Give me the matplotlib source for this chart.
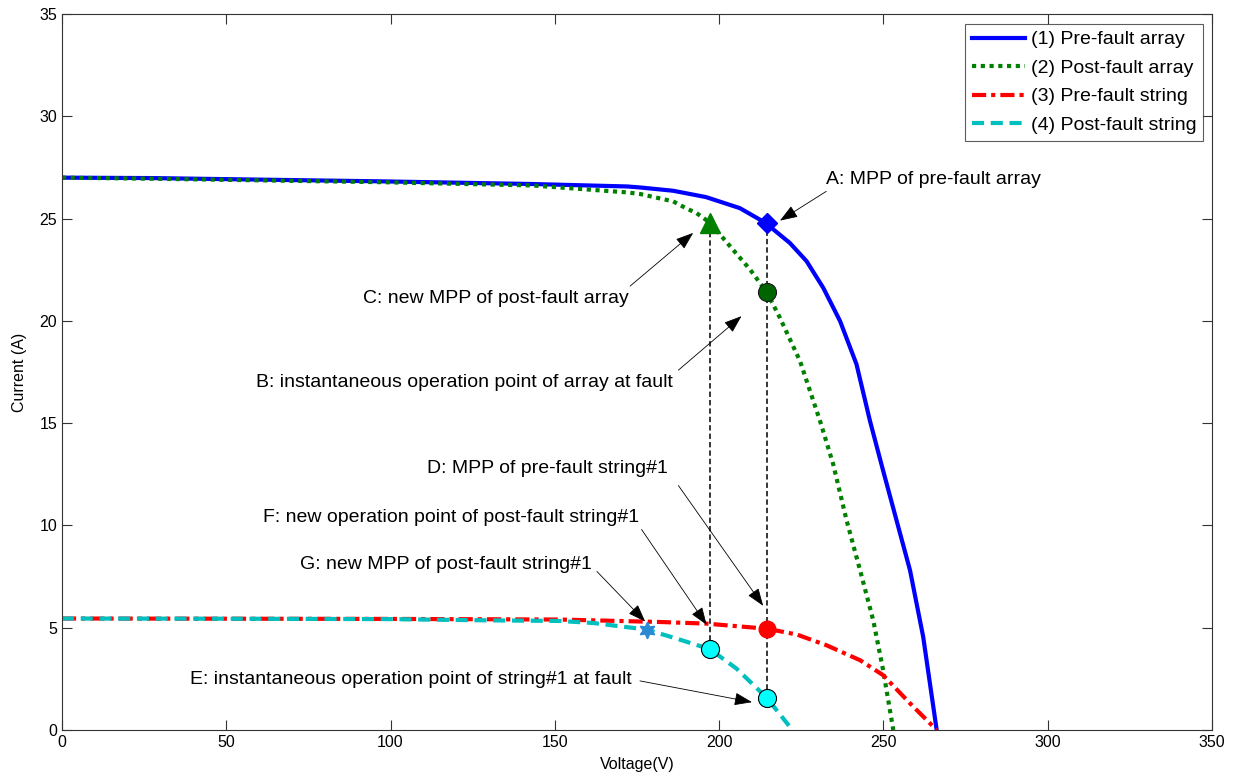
import matplotlib.pyplot as plt

# I-V curves (voltage in V, current in A)
pre_array_v = [0, 27, 97, 143, 172, 176, 186, 196, 206.3, 214, 221.5, 226.6, 231.7, 236.8,
               241.8, 245.9, 249.9, 254.0, 258.1, 262.1, 266.2]
pre_array_i = [27.0, 26.98, 26.82, 26.69, 26.57, 26.52, 26.36, 26.05, 25.51, 24.8, 23.81, 22.92,
               21.61, 19.99, 17.88, 15.11, 12.68, 10.24, 7.8, 4.55, 0.0]

post_array_v = [0, 27, 97, 143, 172, 176, 186, 190, 193.1, 197.2, 203.3, 209.4, 214.5, 218.5,
                224.6, 230.7, 234.7, 238.8, 242.9, 246.9, 249.9, 253]
post_array_i = [27.0, 26.95, 26.78, 26.62, 26.28, 26.2, 25.84, 25.5, 25.27, 24.8, 23.65, 22.51,
                21.4, 20.15, 18.04, 15.11, 13.0, 10.24, 7.8, 5.36, 2.93, 0.0]

pre_string_v = [0, 50, 100, 151.6, 182, 196.2, 214.5, 223.6, 232.7, 242.9, 249.9, 258.1, 266.2]
pre_string_i = [5.45, 5.44, 5.43, 5.40, 5.28, 5.2, 4.95, 4.67, 4.14, 3.41, 2.68, 1.3, 0.0]

post_string_v = [0, 50, 100, 130, 151.6, 161.7, 177.9, 187, 197.2, 205.3, 214.5, 221.5, 222.3]
post_string_i = [5.45, 5.44, 5.42, 5.36, 5.33, 5.23, 4.91, 4.47, 3.95, 3.0, 1.57, 0.16, 0.0]

# operating points A-G
pt_a = (214.5, 24.8)
pt_b = (214.5, 21.4)
pt_c = (197.2, 24.8)
pt_d = (214.5, 4.95)
pt_e = (214.5, 1.57)
pt_f = (197.2, 3.95)
pt_g = (177.9, 4.91)

# annotation text, arrow head, arrow tail, text anchor, alignment
notes = [
    ("A: MPP of pre-fault array", (218.5, 24.9), (232.6, 26.33), (232.5, 26.9), "left"),
    ("C: new MPP of post-fault array", (192.1, 24.3), (172.9, 21.7), (172.5, 21.1), "right"),
    ("B: instantaneous operation point of array at fault", (206.8, 20.23), (187.6, 17.59), (185.8, 17.0), "right"),
    ("D: MPP of pre-fault string#1", (213.4, 6.07), (187.6, 11.95), (184.5, 12.77), "right"),
    ("F: new operation point of post-fault string#1", (196.2, 5.14), (176.4, 9.8), (175.8, 10.38), "right"),
    ("G: new MPP of post-fault string#1", (177.5, 5.3), (162.8, 7.75), (161.3, 8.09), "right"),
    ("E: instantaneous operation point of string#1 at fault", (210.0, 1.36), (175.9, 2.4), (173.5, 2.49), "right"),
]

plt.rcParams['font.family'] = ['Liberation Sans', 'DejaVu Sans']

fig = plt.figure(figsize=(12.34, 7.78), dpi=100)
ax = fig.add_axes([0.0502, 0.0617, 0.9320, 0.9203])

lw = 3.0
ax.plot(pre_array_v, pre_array_i, '-', color='#0000ff', lw=lw, label='(1) Pre-fault array')
ax.plot(post_array_v, post_array_i, ':', color='#008000', lw=lw, label='(2) Post-fault array',
        dashes=(1, 1.1))
ax.plot(pre_string_v, pre_string_i, '-.', color='#ff0000', lw=lw, label='(3) Pre-fault string',
        dashes=(3.4, 1.2, 1, 1.2))
ax.plot(post_string_v, post_string_i, '--', color='#00bfbf', lw=lw, label='(4) Post-fault string',
        dashes=(2.9, 1.6))

# projection lines between the array and string points
ax.plot([pt_f[0], pt_c[0]], [pt_f[1], pt_c[1]], '--', color='black', lw=1.1, dashes=(3.5, 2), zorder=1.5)
ax.plot([pt_e[0], pt_a[0]], [pt_e[1], pt_a[1]], '--', color='black', lw=1.1, dashes=(3.5, 2), zorder=1.5)

ax.plot(*pt_a, marker='D', ms=10, color='#0000ff', mec='#0000ff')
ax.plot(*pt_c, marker='^', ms=14, color='#008000', mec='#008000')
ax.plot(*pt_b, marker='o', ms=13, color='#006400', mec='#1a1a1a', mew=0.8)
ax.plot(*pt_d, marker='o', ms=12, color='#ff0000', mec='#ff0000')
ax.plot(*pt_f, marker='o', ms=13, color='#00ffff', mec='black', mew=0.8)
ax.plot(*pt_e, marker='o', ms=13, color='#00ffff', mec='black', mew=0.8)
ax.plot(*pt_g, marker=(6, 1, 0), ms=12, color='#2a8ad4', mec='#2a8ad4')

for txt, head, tail, anchor, ha in notes:
    ax.text(anchor[0], anchor[1], txt, ha=ha, va='center', fontsize=14)
    ax.annotate('', xy=head, xytext=tail,
                arrowprops=dict(arrowstyle='-|>,head_length=1.1,head_width=0.4',
                                color='black', lw=0.6, shrinkA=0, shrinkB=0))

ax.set_xlim(0, 350)
ax.set_ylim(0, 35)
ax.set_xticks(range(0, 351, 50))
ax.set_yticks(range(0, 36, 5))
ax.tick_params(direction='in', length=7, width=0.8, top=True, right=True,
               labelsize=11.5, color='#333333')
for s in ax.spines.values():
    s.set_color('#333333')
    s.set_linewidth(0.8)

ax.set_xlabel('Voltage(V)', fontsize=11.5, labelpad=5)
ax.set_ylabel('Current (A)', fontsize=11.5, labelpad=9)

leg = ax.legend(loc='upper right', fontsize=14, handlelength=2.7, borderpad=0.35,
                labelspacing=0.56, handletextpad=0.3, fancybox=False, borderaxespad=0,
                bbox_to_anchor=(0.9922, 0.986))
leg.get_frame().set_edgecolor('#333333')
leg.get_frame().set_linewidth(0.8)

plt.savefig('out.png', dpi=100)
